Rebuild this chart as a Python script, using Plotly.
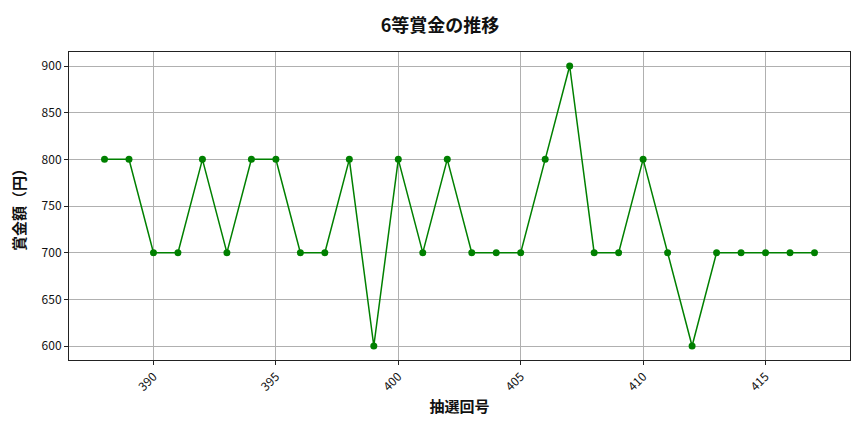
import plotly.graph_objects as go

draws = list(range(388, 418))
prizes = [800, 800, 700, 700, 800, 700, 800, 800, 700, 700,
          800, 600, 800, 700, 800, 700, 700, 700, 800, 900,
          700, 700, 800, 700, 600, 700, 700, 700, 700, 700]
x_ticks = [390, 395, 400, 405, 410, 415]
y_ticks = [600, 650, 700, 750, 800, 850, 900]

font = "Noto Sans CJK JP"

fig = go.Figure()
fig.add_trace(go.Scatter(
    x=draws, y=prizes, mode="lines+markers",
    line=dict(color="green", width=1.5),
    marker=dict(color="green", size=7),
    showlegend=False,
))

axis_style = dict(
    showline=True, linecolor="#222222", linewidth=1, mirror=True,
    ticks="outside", ticklen=4, tickcolor="#222222",
    showgrid=True, gridcolor="#b0b0b0", gridwidth=0.8,
    zeroline=False, automargin=False,
    tickfont=dict(family=font, size=12, color="#111111"),
)

# the page body has an 8px margin, so the margins here are shifted to compensate
fig.update_layout(
    width=864, height=432,
    margin=dict(l=61, r=22, t=44, b=80),
    plot_bgcolor="white", paper_bgcolor="white",
    title=dict(text="<b>6等賞金の推移</b>", x=0.5, xanchor="center",
               y=0.96, yanchor="middle",
               font=dict(family=font, size=18, color="#111111")),
    font=dict(family=font),
)
fig.update_xaxes(axis_style, range=[386.55, 418.45], tickvals=x_ticks, tickangle=-45,
                 title=dict(text="<b>抽選回号</b>", font=dict(family=font, size=15, color="#111111"), standoff=8))
fig.update_yaxes(axis_style, range=[585, 915], tickvals=y_ticks,
                 title=dict(text="<b>賞金額（円）</b>", font=dict(family=font, size=15, color="#111111"), standoff=14))

fig.write_html("out.html")
